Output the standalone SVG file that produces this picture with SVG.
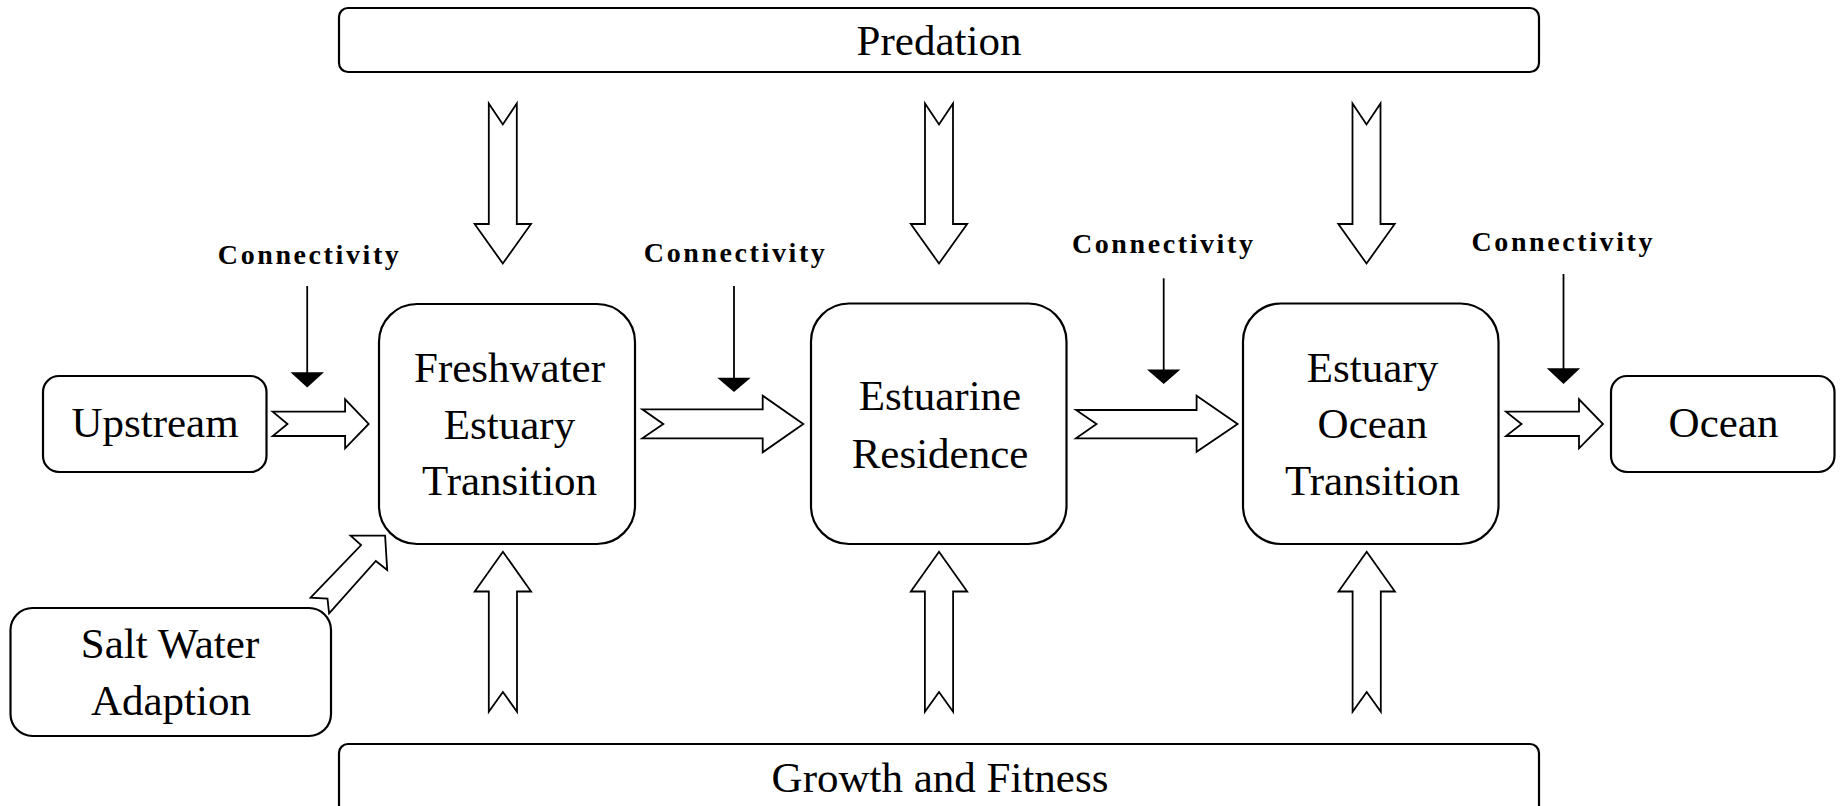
<svg xmlns="http://www.w3.org/2000/svg" width="1845" height="806" viewBox="0 0 1845 806">
  <style>
    .box { fill: #ffffff; stroke: #000000; stroke-width: 2.2; }
    .lbl { font-family: "Liberation Serif", "Times New Roman", serif; font-size: 43px; fill: #000000; text-anchor: middle; }
    .conn { font-family: "Liberation Serif", "Times New Roman", serif; font-size: 28px; font-weight: bold; fill: #000000; text-anchor: middle; }
    .fat { fill: #ffffff; stroke: #000000; stroke-width: 1.8; stroke-linejoin: miter; }
    .thin { stroke: #000000; stroke-width: 1.8; fill: none; }
    .head { fill: #000000; stroke: none; }
  </style>
  <rect width="1845" height="806" fill="#ffffff"/>

  <!-- influence bars -->
  <g id="predation">
    <rect class="box" x="339" y="8" width="1200" height="64" rx="9"/>
    <text class="lbl" x="939" y="55">Predation</text>
  </g>
  <g id="growth-fitness">
    <rect class="box" x="339" y="744" width="1200" height="90" rx="9"/>
    <text class="lbl" x="940" y="792">Growth and Fitness</text>
  </g>

  <!-- life-history stages -->
  <g id="upstream">
    <rect class="box" x="43" y="376" width="223.5" height="96" rx="16"/>
    <text class="lbl" x="155" y="437">Upstream</text>
  </g>
  <g id="freshwater-estuary-transition">
    <rect class="box" x="379" y="304" width="256" height="240" rx="38"/>
    <text class="lbl" x="509.5" y="382">Freshwater</text>
    <text class="lbl" x="509.5" y="438.5">Estuary</text>
    <text class="lbl" x="509.5" y="495">Transition</text>
  </g>
  <g id="estuarine-residence">
    <rect class="box" x="811" y="303.5" width="255.5" height="240.5" rx="38"/>
    <text class="lbl" x="940" y="410">Estuarine</text>
    <text class="lbl" x="940" y="467.5">Residence</text>
  </g>
  <g id="estuary-ocean-transition">
    <rect class="box" x="1243" y="303.5" width="255.5" height="240.5" rx="38"/>
    <text class="lbl" x="1372.5" y="382">Estuary</text>
    <text class="lbl" x="1372.5" y="437.5">Ocean</text>
    <text class="lbl" x="1372.5" y="495">Transition</text>
  </g>
  <g id="ocean">
    <rect class="box" x="1611" y="376" width="223.5" height="96" rx="16"/>
    <text class="lbl" x="1723.5" y="437">Ocean</text>
  </g>
  <g id="salt-water-adaption">
    <rect class="box" x="10.5" y="608" width="320.5" height="128" rx="22"/>
    <text class="lbl" x="170" y="657.5">Salt Water</text>
    <text class="lbl" x="171" y="715">Adaption</text>
  </g>

  <!-- connectivity labels -->
  <g id="connectivity-labels">
    <text class="conn" x="308.3" y="264" textLength="181" lengthAdjust="spacing">Connectivity</text>
    <text class="conn" x="734.3" y="261.7" textLength="181" lengthAdjust="spacing">Connectivity</text>
    <text class="conn" x="1162.4" y="252.7" textLength="181" lengthAdjust="spacing">Connectivity</text>
    <text class="conn" x="1562" y="251" textLength="181" lengthAdjust="spacing">Connectivity</text>
  </g>

  <g id="connectors">
    <!-- stage-to-stage block arrows -->
    <polygon class="fat" points="272.7,411.7 345.1,411.7 345.1,399.3 368.7,424 345.1,448.3 345.1,436 272.7,436 287.5,424"/>
    <polygon class="fat" points="642.3,409.3 762.7,409.3 762.7,395.7 803.3,424 762.7,452.3 762.7,438.3 642.3,438.3 663.3,424"/>
    <polygon class="fat" points="1076,410 1196.6,410 1196.6,395.7 1237.6,424 1196.6,451.7 1196.6,438.3 1076,438.3 1096.5,424"/>
    <polygon class="fat" points="1506,411.7 1579,411.7 1579,399.3 1603,424 1579,448.3 1579,436 1506,436 1521.5,424"/>

    <!-- salt water adaption into the freshwater-estuary transition -->
    <polygon class="fat" points="310.6,597.7 361.1,545 350.6,535.7 385.1,535.7 387.2,570 375.8,561 329.1,613.3 327.5,598.5"/>

    <!-- predation pressure on each stage -->
    <polygon class="fat" points="488.8,103.5 502.8,124.5 516.8,103.5 516.8,224 531,224 502.8,263.5 474.6,224 488.8,224"/>
    <polygon class="fat" points="925,103.5 939,124.5 953,103.5 953,224 967.2,224 939,263.5 910.8,224 925,224"/>
    <polygon class="fat" points="1352.5,103.5 1366.5,124.5 1380.5,103.5 1380.5,224 1394.7,224 1366.5,263.5 1338.3,224 1352.5,224"/>

    <!-- growth and fitness support for each stage -->
    <polygon class="fat" points="488.8,711.7 502.9,692 517,711.7 517,591.5 531.1,591.5 502.9,551.7 474.7,591.5 488.8,591.5"/>
    <polygon class="fat" points="924.9,711.7 939,692 953.1,711.7 953.1,591.5 967.2,591.5 939,551.7 910.8,591.5 924.9,591.5"/>
    <polygon class="fat" points="1352.6,711.7 1366.7,692 1380.8,711.7 1380.8,591.5 1394.9,591.5 1366.7,551.7 1338.5,591.5 1352.6,591.5"/>

    <!-- connectivity pointers -->
    <line class="thin" x1="307.2" y1="286" x2="307.2" y2="373"/>
    <polygon class="head" points="290.5,372.3 324,372.3 307.2,387.5"/>
    <line class="thin" x1="734" y1="286" x2="734" y2="378.5"/>
    <polygon class="head" points="717.3,377.7 750.7,377.7 734,392"/>
    <line class="thin" x1="1163.7" y1="278.3" x2="1163.7" y2="370.5"/>
    <polygon class="head" points="1147,369.5 1180.4,369.5 1163.7,384"/>
    <line class="thin" x1="1563.5" y1="274" x2="1563.5" y2="369"/>
    <polygon class="head" points="1546.8,368.3 1580.2,368.3 1563.5,384"/>
  </g>
</svg>
